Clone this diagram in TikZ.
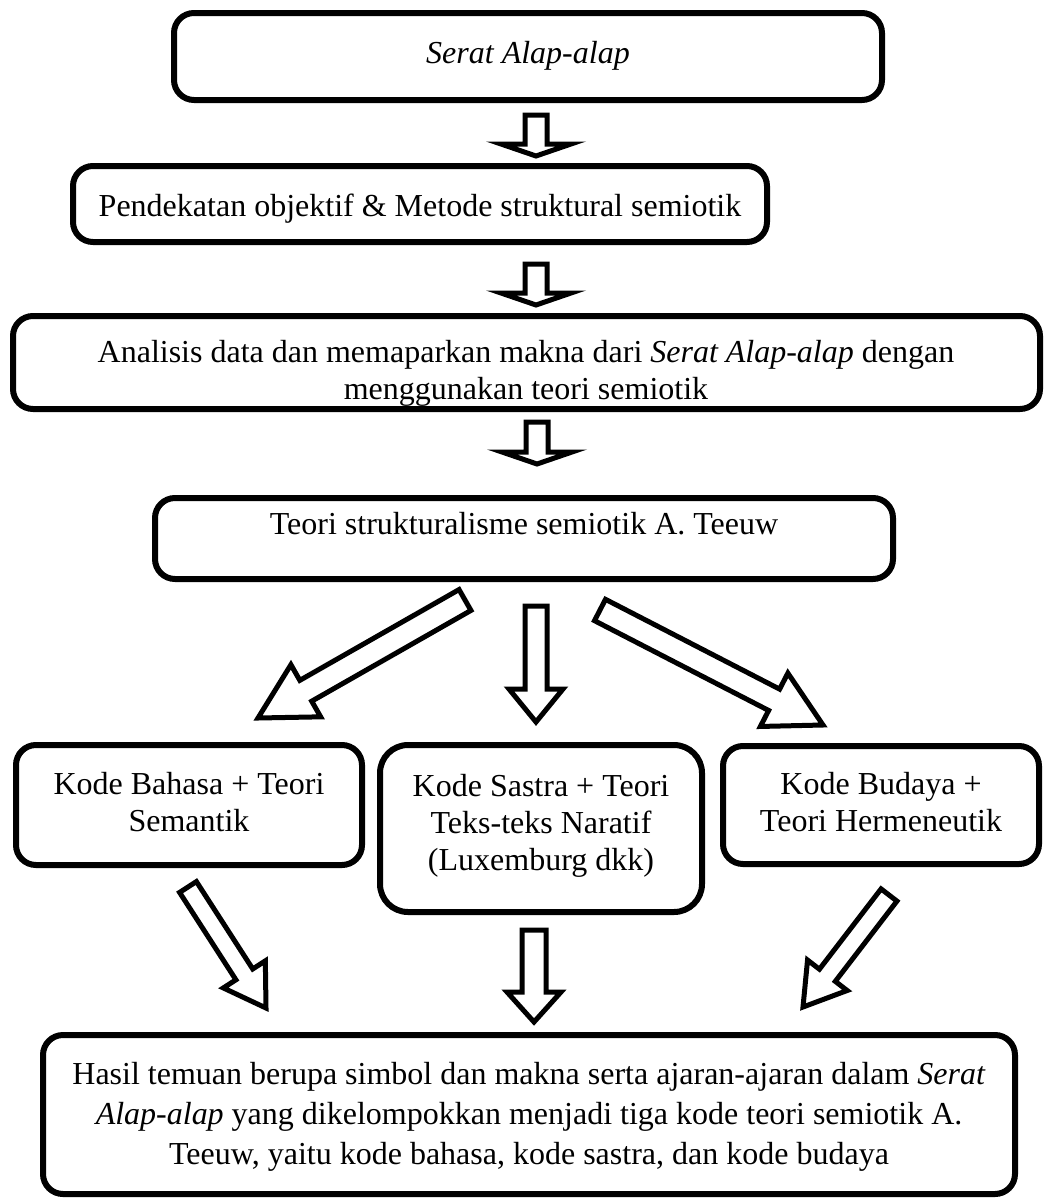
\documentclass[tikz,border=0pt]{standalone}
\usepackage{fontspec}
\setmainfont{Liberation Serif}
\usetikzlibrary{calc}
% block arrow: #1 tail, #2 tip, #3 shaft half width, #4 head half width, #5 head length
\newcommand{\blockarrow}[5]{%
  \coordinate (hb) at ($(#2)!#5!(#1)$);
  \draw[barrow] ($(#1)!#3!90:(#2)$) -- ($(hb)!#3!90:(#2)$) -- ($(hb)!#4!90:(#2)$) -- (#2)
    -- ($(hb)!#4!-90:(#2)$) -- ($(hb)!#3!-90:(#2)$) -- ($(#1)!#3!-90:(#2)$) -- cycle;
}
\begin{document}
\begin{tikzpicture}[x=1pt,y=-1pt,
  box/.style={draw=black, line width=6pt, rounded corners=20pt, inner sep=0pt},
  txt/.style={font=\fontsize{32}{37}\selectfont, align=center, inner sep=0pt, anchor=north},
  barrow/.style={draw=black, fill=white, line width=5pt, line join=miter}]
\useasboundingbox (0,0) rectangle (1045,1200);
\fill[white] (0,0) rectangle (1045,1200);

% boxes
\node[box, minimum width=708pt, minimum height=87pt] (b1) at (528,56.5) {};
\node[box, minimum width=694pt, minimum height=76pt] (b2) at (420,204) {};
\node[box, minimum width=1027pt, minimum height=93pt] (b3) at (526.5,362.5) {};
\node[box, minimum width=738pt, minimum height=81pt] (b4) at (524,538.5) {};
\node[box, minimum width=346pt, minimum height=120pt] (b5) at (189,805) {};
\node[box, minimum width=322pt, minimum height=167pt, rounded corners=28pt] (b6) at (541,828.5) {};
\node[box, minimum width=316pt, minimum height=118pt] (b7) at (881,805) {};
\node[box, minimum width=972pt, minimum height=159pt] (b8) at (529,1114.5) {};

% texts
\node[txt] (t1) at (528,41) {\textit{Serat Alap-alap}};
\node[txt] (t2) at (420,194) {Pendekatan objektif \& Metode struktural semiotik};
\node[txt] (t3) at (526,340) {Analisis data dan memaparkan makna dari \textit{Serat Alap-alap} dengan\\menggunakan teori semiotik};
\node[txt] (t4) at (524,512) {Teori strukturalisme semiotik A. Teeuw};
\node[txt] (t5) at (189,772) {Kode Bahasa + Teori\\Semantik};
\node[txt] (t6) at (541,774) {Kode Sastra + Teori\\Teks-teks Naratif\\(Luxemburg dkk)};
\node[txt] (t7) at (881,772) {Kode Budaya +\\Teori Hermeneutik};
\node[txt, font=\fontsize{32}{40}\selectfont] (t8) at (529,1062) {Hasil temuan berupa simbol dan makna serta ajaran-ajaran dalam \textit{Serat}\\\textit{Alap-alap} yang dikelompokkan menjadi tiga kode teori semiotik A.\\Teeuw, yaitu kode bahasa, kode sastra, dan kode budaya};

% arrow end points
\coordinate (a1s) at (536,115);  \coordinate (a1e) at (536,156);
\coordinate (a2s) at (536,264);  \coordinate (a2e) at (536,305);
\coordinate (a3s) at (537,422);  \coordinate (a3e) at (537,464);
\coordinate (d1s) at (465,600);  \coordinate (d1e) at (258,718);
\coordinate (d2s) at (536,606);  \coordinate (d2e) at (536,722);
\coordinate (d3s) at (600,610);  \coordinate (d3e) at (823,725);
\coordinate (e1s) at (188,887);  \coordinate (e1e) at (266,1008);
\coordinate (e2s) at (534,930);  \coordinate (e2e) at (534,1022);
\coordinate (e3s) at (889,895);  \coordinate (e3e) at (803,1007);

\blockarrow{a1s}{a1e}{11pt}{35pt}{12pt}
\blockarrow{a2s}{a2e}{11pt}{35pt}{12pt}
\blockarrow{a3s}{a3e}{11pt}{35pt}{12pt}
\blockarrow{d1s}{d1e}{12pt}{30pt}{55pt}
\blockarrow{d2s}{d2e}{11pt}{27pt}{33pt}
\blockarrow{d3s}{d3e}{12pt}{30pt}{55pt}
\blockarrow{e1s}{e1e}{10pt}{25pt}{40pt}
\blockarrow{e2s}{e2e}{12pt}{27pt}{30pt}
\blockarrow{e3s}{e3e}{10pt}{25pt}{40pt}
\end{tikzpicture}
\end{document}
